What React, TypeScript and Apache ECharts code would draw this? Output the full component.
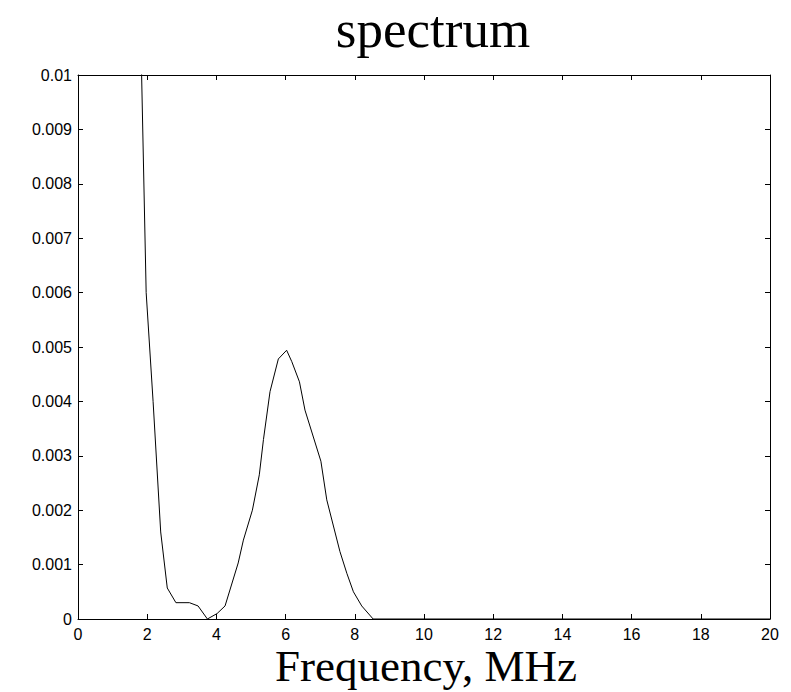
import React, { useEffect, useRef } from "react";
import * as echarts from "echarts";

const freqs = [1.75, 1.97, 2.17, 2.39, 2.58, 2.83, 3.22, 3.47, 3.74, 4.02, 4.25, 4.63, 4.78, 5.04, 5.24, 5.36, 5.55, 5.79, 6.03, 6.18, 6.4, 6.56, 7.02, 7.19, 7.57, 7.77, 7.96, 8.2, 8.53, 20];
const power = [0.0127, 0.006, 0.004, 0.0016, 0.00057, 0.0003, 0.0003, 0.00024, 0, 0.0001, 0.00024, 0.00103, 0.00145, 0.002, 0.00265, 0.0033, 0.00418, 0.00478, 0.00494, 0.00473, 0.00436, 0.00384, 0.0029, 0.00219, 0.00124, 0.00084, 0.0005, 0.00024, 0, 0];
const xTicks = [0, 2, 4, 6, 8, 10, 12, 14, 16, 18, 20];
const yTickLabels = ["0", "0.001", "0.002", "0.003", "0.004", "0.005", "0.006", "0.007", "0.008", "0.009", "0.01"];

export default function App() {
  const ref = useRef<HTMLDivElement>(null);
  useEffect(() => {
    if (!ref.current) return;
    const chart = echarts.init(ref.current, null, { renderer: "svg" });
    const axisLine = { show: true, onZero: false, lineStyle: { color: "#000", width: 1 } };
    const tick = { show: true, inside: true, length: 5, lineStyle: { color: "#000" } };
    const sans = "Liberation Sans, Arial, sans-serif";
    const serif = "'Liberation Serif', 'Times New Roman', serif";
    chart.setOption({
      animation: false,
      backgroundColor: "#fff",
      grid: { left: 78, right: 21, top: 75, bottom: 73, containLabel: false },
      xAxis: [
        {
          type: "value", min: 0, max: 20, interval: 2, position: "bottom",
          axisLine, axisTick: tick, splitLine: { show: false },
          axisLabel: { color: "#000", fontSize: 16, lineHeight: 16, fontFamily: sans, margin: 7, formatter: (v: number) => (xTicks.includes(v) ? String(v) : "") },
        },
        {
          type: "value", min: 0, max: 20, interval: 2, position: "top",
          axisLine, axisTick: tick, splitLine: { show: false }, axisLabel: { show: false },
        },
      ],
      yAxis: [
        {
          type: "value", min: 0, max: 0.01, interval: 0.001, position: "left",
          axisLine, axisTick: tick, splitLine: { show: false },
          axisLabel: { color: "#000", fontSize: 16, fontFamily: sans, margin: 6, formatter: (v: number) => yTickLabels[Math.round(v * 1000)] ?? "" },
        },
        {
          type: "value", min: 0, max: 0.01, interval: 0.001, position: "right",
          axisLine, axisTick: tick, splitLine: { show: false }, axisLabel: { show: false },
        },
      ],
      graphic: [
        { type: "text", style: { text: "spectrum", x: 433, y: 2, fill: "#000", font: `53px ${serif}`, textAlign: "center", textVerticalAlign: "top" } },
        { type: "text", style: { text: "Frequency, MHz", x: 426, y: 686, fill: "#000", font: `45px ${serif}`, lineHeight: 40, textAlign: "center", textVerticalAlign: "bottom" } },
      ],
      series: [
        {
          type: "line",
          data: freqs.map((f, i) => [f, power[i]]),
          showSymbol: false,
          symbol: "none",
          clip: true,
          lineStyle: { color: "#000", width: 1 },
        },
      ],
    });
    return () => chart.dispose();
  }, []);
  return <div ref={ref} style={{ width: 791, height: 692, position: "absolute", left: 0, top: 0 }} />;
}
